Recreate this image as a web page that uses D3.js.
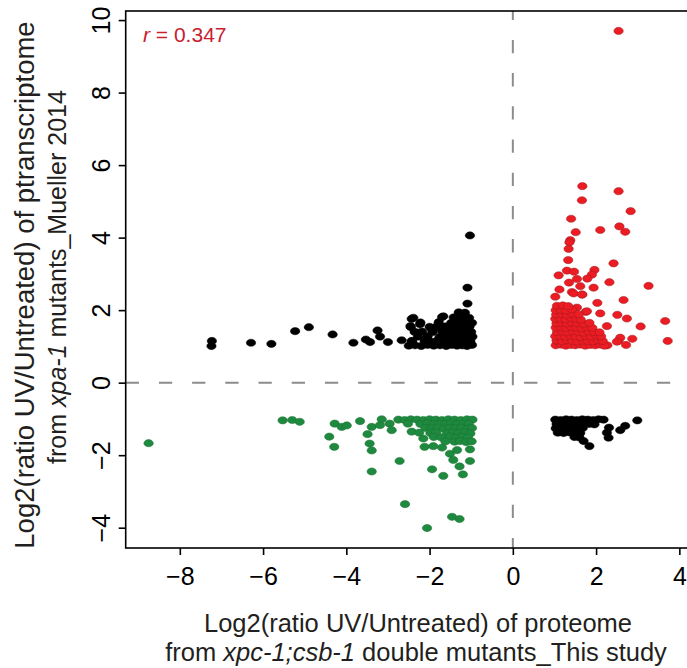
<!DOCTYPE html>
<html>
<head>
<meta charset="utf-8">
<script src="https://cdn.jsdelivr.net/npm/d3@7"></script>
<style>
  body { margin: 0; background: #fff; }
  svg { display: block; font-family: "Liberation Sans", Arial, sans-serif; }
</style>
</head>
<body>
<div id="chart"></div>
<script>
// Data: [log2 ratio proteome, log2 ratio transcriptome]
// both up (red)
const bothUp = [
  [2.54, 9.70], [1.67, 5.42], [2.54, 5.28], [1.66, 5.03], [2.83, 4.73], [1.40, 4.52],
  [1.51, 4.15], [2.10, 4.21], [2.56, 4.31], [2.70, 4.16], [1.38, 3.93], [1.36, 3.87],
  [1.34, 3.69], [1.33, 3.38], [2.42, 3.29], [1.30, 3.09], [1.47, 3.06], [1.10, 2.96],
  [1.96, 3.11], [1.90, 2.98], [1.79, 2.87], [1.54, 2.86], [1.35, 2.76], [2.32, 2.77],
  [3.26, 2.67], [1.62, 2.66], [1.12, 2.57], [1.94, 2.62], [1.42, 2.50], [1.67, 2.43],
  [1.02, 2.37], [2.66, 2.28], [2.03, 2.20], [2.10, 1.91], [2.51, 1.87], [2.74, 1.77],
  [1.75, 1.95], [3.07, 1.55], [3.66, 1.70], [3.72, 1.15], [2.87, 1.21], [2.54, 1.15],
  [2.58, 1.24], [2.72, 1.04], [2.26, 1.56], [2.27, 1.03], [2.50, 1.13], [1.78, 1.97],
  [1.54, 2.07], [1.46, 2.46], [1.66, 2.43],
  [1.03, 1.03], [1.15, 1.05], [1.27, 1.02], [1.39, 1.04], [1.50, 1.03], [1.62, 1.05],
  [1.74, 1.02], [1.86, 1.04], [1.98, 1.03], [2.10, 1.05], [2.20, 1.02],
  [1.05, 1.16], [1.18, 1.14], [1.30, 1.17], [1.43, 1.15], [1.55, 1.13], [1.68, 1.16],
  [1.80, 1.15], [1.93, 1.14], [2.05, 1.17], [2.16, 1.15],
  [1.02, 1.28], [1.14, 1.29], [1.26, 1.27], [1.38, 1.30], [1.51, 1.28], [1.63, 1.26],
  [1.75, 1.29], [1.88, 1.27], [2.01, 1.30], [2.12, 1.28],
  [1.06, 1.40], [1.19, 1.41], [1.31, 1.39], [1.44, 1.42], [1.57, 1.40], [1.69, 1.38],
  [1.82, 1.41], [1.95, 1.40], [2.08, 1.39],
  [1.03, 1.52], [1.15, 1.53], [1.28, 1.51], [1.40, 1.54], [1.53, 1.52], [1.66, 1.50],
  [1.78, 1.53], [1.91, 1.51],
  [1.05, 1.64], [1.17, 1.65], [1.30, 1.63], [1.42, 1.66], [1.55, 1.64], [1.70, 1.62],
  [1.84, 1.65],
  [1.02, 1.76], [1.14, 1.77], [1.27, 1.75], [1.40, 1.78], [1.52, 1.76], [1.63, 1.74],
  [1.04, 1.88], [1.17, 1.89], [1.30, 1.87], [1.43, 1.90], [1.58, 1.88],
  [1.03, 2.00], [1.15, 2.01], [1.28, 1.99], [1.42, 2.02],
  [1.06, 2.12], [1.20, 2.13], [1.33, 2.11]
];

// protein down, transcript up (black, upper left)
const protDownRnaUp = [
  [-7.23, 1.15], [-7.24, 1.01], [-6.29, 1.10], [-5.80, 1.07], [-5.23, 1.42], [-4.90, 1.53],
  [-4.33, 1.33], [-3.83, 1.10], [-3.53, 1.19], [-3.43, 1.12], [-3.25, 1.44], [-3.19, 1.27],
  [-3.00, 1.12], [-2.67, 1.17], [-1.03, 4.06], [-1.09, 2.62], [-1.09, 2.18], [-2.43, 1.76],
  [-1.70, 1.81], [-2.39, 1.79], [-1.67, 1.83], [-2.46, 1.56], [-2.30, 1.38], [-2.43, 1.15],
  [-2.23, 1.61], [-1.95, 1.47], [-2.06, 1.24], [-1.79, 1.61], [-1.58, 1.19],
  [-2.50, 1.02], [-2.35, 1.03], [-2.20, 1.01], [-2.05, 1.04], [-1.90, 1.02], [-1.75, 1.03],
  [-1.60, 1.01], [-1.47, 1.04], [-1.34, 1.02], [-1.22, 1.03], [-1.10, 1.01], [-0.98, 1.04],
  [-2.42, 1.14], [-2.12, 1.15], [-1.97, 1.13], [-1.82, 1.16], [-1.66, 1.14], [-1.52, 1.15],
  [-1.39, 1.13], [-1.27, 1.16], [-1.15, 1.14], [-1.02, 1.15],
  [-2.28, 1.27], [-2.05, 1.28], [-1.76, 1.26], [-1.60, 1.29], [-1.45, 1.27], [-1.32, 1.28],
  [-1.20, 1.26], [-1.07, 1.29], [-0.97, 1.27],
  [-2.36, 1.40], [-2.18, 1.41], [-1.93, 1.39], [-1.70, 1.42], [-1.50, 1.40], [-1.38, 1.41],
  [-1.25, 1.39], [-1.12, 1.42], [-1.00, 1.40],
  [-2.45, 1.53], [-2.00, 1.54], [-1.85, 1.52], [-1.62, 1.55], [-1.44, 1.53], [-1.30, 1.54],
  [-1.17, 1.52], [-1.04, 1.55],
  [-2.22, 1.66], [-1.78, 1.67], [-1.48, 1.65], [-1.35, 1.68], [-1.21, 1.66], [-1.08, 1.67],
  [-0.98, 1.65],
  [-1.42, 1.80], [-1.25, 1.81], [-1.05, 1.79], [-1.15, 1.93], [-1.30, 1.94]
];

// both down (green)
const bothDown = [
  [-8.75, -1.67], [-5.53, -1.04], [-5.30, -1.03], [-5.12, -1.08], [-4.28, -1.13], [-4.11, -1.22],
  [-3.99, -1.18], [-4.41, -1.49], [-4.29, -1.77], [-3.67, -1.06], [-3.39, -1.22], [-3.49, -1.42],
  [-3.44, -1.68], [-3.39, -1.87], [-3.39, -2.45], [-3.15, -1.01], [-3.19, -1.17], [-2.96, -1.13],
  [-2.91, -1.31], [-2.72, -2.16], [-2.59, -3.35], [-2.06, -4.01], [-1.46, -3.70], [-1.28, -3.76],
  [-1.94, -2.39], [-1.67, -2.57], [-1.20, -2.53], [-1.28, -2.31], [-1.03, -2.16], [-1.43, -2.13],
  [-1.51, -1.96], [-1.03, -1.84], [-2.12, -1.77], [-1.91, -1.75], [-1.70, -1.79], [-1.34, -1.86],
  [-2.43, -1.35], [-2.15, -1.54],
  [-2.75, -1.02], [-2.60, -1.03], [-2.45, -1.01], [-2.30, -1.02], [-2.15, -1.03], [-2.00, -1.01],
  [-1.85, -1.02], [-1.70, -1.03], [-1.55, -1.01], [-1.40, -1.02], [-1.25, -1.03], [-1.10, -1.01],
  [-0.97, -1.02],
  [-2.52, -1.13], [-2.22, -1.14], [-2.05, -1.12], [-1.90, -1.15], [-1.76, -1.13], [-1.62, -1.14],
  [-1.48, -1.12], [-1.34, -1.15], [-1.20, -1.13], [-1.06, -1.14],
  [-2.10, -1.25], [-1.95, -1.26], [-1.80, -1.24], [-1.66, -1.27], [-1.52, -1.25], [-1.38, -1.26],
  [-1.24, -1.24], [-1.10, -1.27], [-0.98, -1.25],
  [-2.25, -1.38], [-1.98, -1.39], [-1.84, -1.37], [-1.58, -1.40], [-1.44, -1.38], [-1.30, -1.39],
  [-1.16, -1.37], [-1.02, -1.40],
  [-1.90, -1.50], [-1.72, -1.51], [-1.50, -1.49], [-1.36, -1.52], [-1.22, -1.50], [-1.08, -1.51],
  [-1.62, -1.62], [-1.40, -1.63], [-1.27, -1.61], [-1.12, -1.64], [-0.99, -1.62]
];

// protein up, transcript down (black, lower right)
const protUpRnaDown = [
  [2.99, -1.04], [2.70, -1.19], [2.58, -1.31], [2.31, -1.24], [2.26, -1.38], [2.30, -1.52],
  [1.84, -1.75], [1.70, -1.61],
  [1.02, -1.02], [1.15, -1.03], [1.28, -1.01], [1.41, -1.02], [1.54, -1.03], [1.67, -1.01],
  [1.80, -1.02], [1.93, -1.03], [2.06, -1.01], [2.18, -1.02],
  [1.05, -1.14], [1.18, -1.15], [1.31, -1.13], [1.44, -1.14], [1.57, -1.15], [1.70, -1.13],
  [1.83, -1.14], [1.96, -1.15],
  [1.03, -1.26], [1.16, -1.27], [1.29, -1.25], [1.42, -1.26], [1.55, -1.27], [1.68, -1.25],
  [1.08, -1.38], [1.22, -1.39], [1.36, -1.37], [1.50, -1.38], [1.62, -1.39],
  [1.48, -1.50], [1.60, -1.51]
];

const xTicks = [-8, -6, -4, -2, 0, 2, 4];
const yTicks = [-4, -2, 0, 2, 4, 6, 8, 10];
const correlation = "0.347";

const width = 687;
const height = 668;

const svg = d3.select("#chart")
  .append("svg")
  .attr("width", width)
  .attr("height", height);

// plot region (right edge falls just outside the picture)
const x = d3.scaleLinear().domain([-9.3, 4.22]).range([125.7, 688.5]);
const y = d3.scaleLinear().domain([-4.56, 10.25]).range([548, 11]);

// zero reference lines
svg.append("line")
  .attr("x1", x.range()[0]).attr("x2", x.range()[1])
  .attr("y1", y(0)).attr("y2", y(0))
  .attr("stroke", "#8c8c8c").attr("stroke-width", 2)
  .attr("stroke-dasharray", "13.3 19.9");

svg.append("line")
  .attr("x1", x(0)).attr("x2", x(0))
  .attr("y1", y.range()[1]).attr("y2", y.range()[0])
  .attr("stroke", "#8c8c8c").attr("stroke-width", 2)
  .attr("stroke-dasharray", "13.3 19.9")
  .attr("stroke-dashoffset", 4.3);

// points
const groups = [
  { data: protDownRnaUp, fill: "#000000", stroke: "#000000" },
  { data: protUpRnaDown, fill: "#000000", stroke: "#000000" },
  { data: bothDown, fill: "#1f8a3f", stroke: "#17702f" },
  { data: bothUp, fill: "#ec1c24", stroke: "#9a1a1d" }
];

groups.forEach((g) => {
  svg.append("g")
    .selectAll("ellipse")
    .data(g.data)
    .join("ellipse")
    .attr("cx", (d) => x(d[0]))
    .attr("cy", (d) => y(d[1]))
    .attr("rx", 4.7)
    .attr("ry", 3.6)
    .attr("fill", g.fill)
    .attr("stroke", g.stroke)
    .attr("stroke-width", 0.5);
});

// box
svg.append("rect")
  .attr("x", x.range()[0])
  .attr("y", y.range()[1])
  .attr("width", x.range()[1] - x.range()[0])
  .attr("height", y.range()[0] - y.range()[1])
  .attr("fill", "none")
  .attr("stroke", "#000")
  .attr("stroke-width", 1.6);

// x axis
const xAxis = svg.append("g")
  .attr("transform", `translate(0,${y.range()[0]})`)
  .call(d3.axisBottom(x).tickValues(xTicks).tickSize(7));
xAxis.select(".domain").remove();
xAxis.selectAll("line").attr("stroke", "#000").attr("stroke-width", 1.6);
xAxis.selectAll("text")
  .attr("y", 37).attr("dy", 0)
  .attr("fill", "#000")
  .style("font-size", "25px")
  .style("font-family", "Liberation Sans, Arial, sans-serif");

// y axis, labels rotated like base R
const yAxis = svg.append("g")
  .attr("transform", `translate(${x.range()[0]},0)`)
  .call(d3.axisLeft(y).tickValues(yTicks).tickSize(7));
yAxis.select(".domain").remove();
yAxis.selectAll("line").attr("stroke", "#000").attr("stroke-width", 1.6);
yAxis.selectAll("text")
  .attr("transform", "rotate(-90)")
  .attr("x", 0).attr("y", -16).attr("dy", 0)
  .attr("text-anchor", "middle")
  .attr("fill", "#000")
  .style("font-size", "25px")
  .style("font-family", "Liberation Sans, Arial, sans-serif");

// correlation label
const rLabel = svg.append("text")
  .attr("x", 143).attr("y", 42)
  .attr("fill", "#c8202f")
  .style("font-size", "21px");
rLabel.append("tspan").style("font-style", "italic").text("r");
rLabel.append("tspan").text(" = " + correlation);

// x title
const xTitle = svg.append("g").attr("fill", "#231f20").style("font-size", "25.5px");
xTitle.append("text")
  .attr("x", 418).attr("y", 632)
  .attr("text-anchor", "middle")
  .text("Log2(ratio UV/Untreated) of proteome");
const xt2 = xTitle.append("text")
  .attr("x", 416).attr("y", 661)
  .attr("text-anchor", "middle");
xt2.append("tspan").text("from ");
xt2.append("tspan").style("font-style", "italic").text("xpc-1;csb-1");
xt2.append("tspan").text(" double mutants_This study");

// y title
const yTitle = svg.append("g").attr("fill", "#231f20");
yTitle.append("text")
  .attr("transform", "translate(34,285) rotate(-90)")
  .attr("text-anchor", "middle")
  .style("font-size", "27.5px")
  .text("Log2(ratio UV/Untreated) of ptranscriptome");
const yt2 = yTitle.append("text")
  .attr("transform", "translate(66,277) rotate(-90)")
  .attr("text-anchor", "middle")
  .style("font-size", "25px");
yt2.append("tspan").text("from ");
yt2.append("tspan").style("font-style", "italic").text("xpa-1");
yt2.append("tspan").text(" mutants_Mueller 2014");
</script>
</body>
</html>
